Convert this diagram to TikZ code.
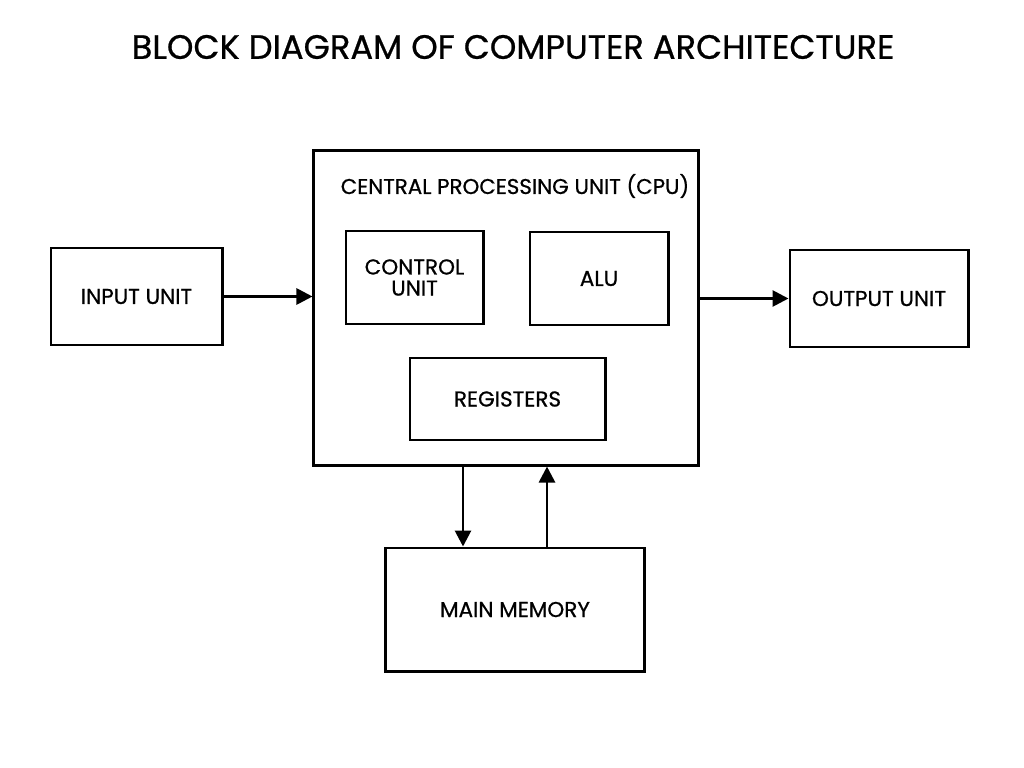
\documentclass[tikz,border=0pt]{standalone}
\usepackage{fontspec}
\setmainfont{Poppins}[FakeBold=0.7]
\usepackage{tikz}
\usetikzlibrary{arrows.meta, positioning, calc}
\tikzset{
  block/.style={rectangle, draw=black, line width=2.1pt, fill=white, align=center, font=\fontsize{15.3}{15}\selectfont, inner sep=0pt},
  arrow/.style={-{Triangle[length=4mm, width=4mm]}, line width=2pt},
}

\begin{document}
\begin{tikzpicture}[x=0.025cm, y=-0.025cm]

\useasboundingbox (0,0) rectangle (1024,768);

% title
\node[font=\fontsize{24}{26}\selectfont] (title) at (513,47) {BLOCK DIAGRAM OF COMPUTER ARCHITECTURE};

% cpu and its parts
\node[block, minimum width=9.6cm, minimum height=7.85cm] (cpu) at (506,308) {};
\node[font=\fontsize{15.2}{16}\selectfont] (cpulabel) at (515,186) {CENTRAL PROCESSING UNIT (CPU)};
\node[block, minimum width=3.425cm, minimum height=2.325cm] (ctrl) at (414.5,277.5) {CONTROL\\UNIT};
\node[block, minimum width=3.45cm, minimum height=2.325cm] (alu) at (599,278.5) {ALU};
\node[block, minimum width=4.875cm, minimum height=2.05cm] (reg) at (507.5,399) {REGISTERS};

% input, output, memory
\node[block, minimum width=4.275cm, minimum height=2.425cm] (in) at (136.5,296.5) {INPUT UNIT};
\node[block, minimum width=4.45cm, minimum height=2.425cm] (out) at (879,298.5) {OUTPUT UNIT};
\node[block, minimum width=6.45cm, minimum height=3.075cm] (mem) at (515,609.5) {MAIN MEMORY};

% connectors
\coordinate (dn) at (463,0);
\coordinate (up) at (547,0);
\draw[arrow] (in.east) -- (in.east -| cpu.west);
\draw[arrow] (cpu.east |- out.west) -- (out.west);
\draw[arrow] (cpu.south -| dn) -- (mem.north -| dn);
\draw[arrow] (mem.north -| up) -- (cpu.south -| up);
\end{tikzpicture}
\end{document}
